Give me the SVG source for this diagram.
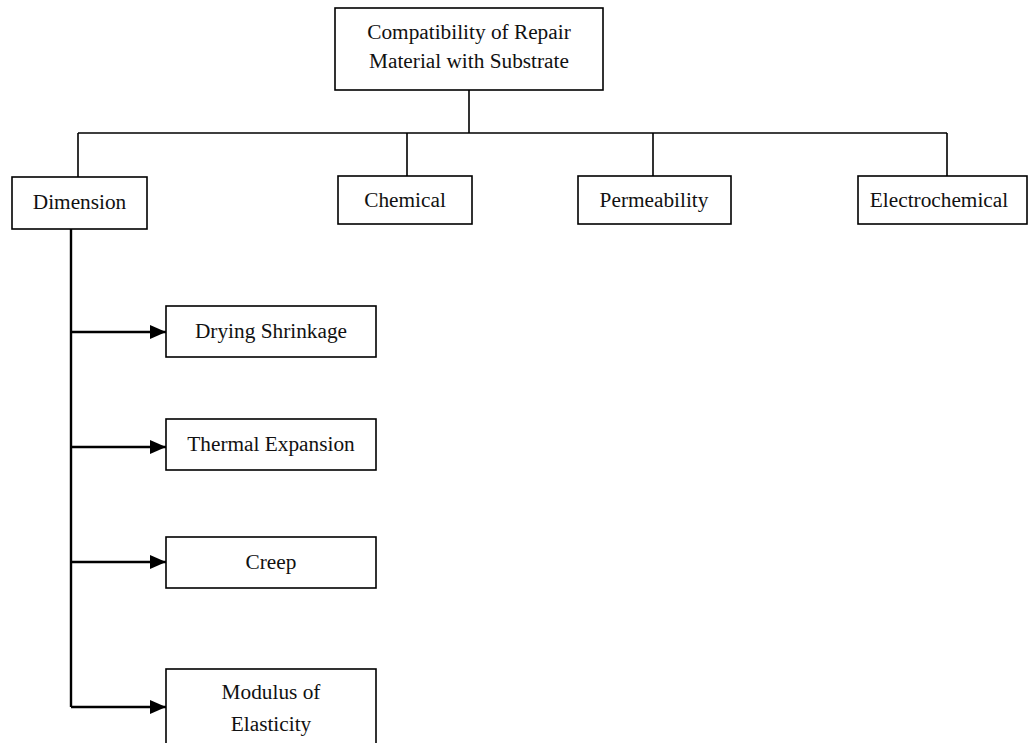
<svg xmlns="http://www.w3.org/2000/svg" width="1029" height="743" viewBox="0 0 1029 743">
<style>
.box{fill:#fff;stroke:#000;stroke-width:1.6}
.t{font-family:"Liberation Serif","Times New Roman",serif;font-size:21.3px;fill:#111;text-anchor:middle}
.ln{fill:none;stroke:#000;stroke-width:1.6}
.ar{fill:none;stroke:#000;stroke-width:2.4}
</style>
<defs>
<marker id="ah" markerWidth="16" markerHeight="14" refX="16" refY="7" orient="auto" markerUnits="userSpaceOnUse">
<path d="M0,0 L16,7 L0,14 Z" fill="#000"/>
</marker>
</defs>
<rect width="1029" height="743" fill="#fff"/>
<g id="connectors">
<path class="ln" d="M469,90 V133 M78,133 H947 M78,133 V177 M407,133 V176 M653,133 V176 M947,133 V176"/>
<path class="ar" d="M71,229 V707"/>
<path class="ar" d="M71,332 H166" marker-end="url(#ah)"/>
<path class="ar" d="M71,447 H166" marker-end="url(#ah)"/>
<path class="ar" d="M71,562 H166" marker-end="url(#ah)"/>
<path class="ar" d="M71,707 H166" marker-end="url(#ah)"/>
</g>
<g id="root">
<rect class="box" x="335" y="8" width="268" height="82"/>
<text class="t" x="469" y="39">Compatibility of Repair</text>
<text class="t" x="469" y="68">Material with Substrate</text>
</g>
<g id="dimension">
<rect class="box" x="12" y="177" width="135" height="52"/>
<text class="t" x="79.5" y="209">Dimension</text>
</g>
<g id="chemical">
<rect class="box" x="338" y="176" width="134" height="48"/>
<text class="t" x="405" y="207">Chemical</text>
</g>
<g id="permeability">
<rect class="box" x="578" y="176" width="153" height="48"/>
<text class="t" x="654" y="207">Permeability</text>
</g>
<g id="electrochemical">
<rect class="box" x="858" y="176" width="169" height="48"/>
<text class="t" x="939" y="207">Electrochemical</text>
</g>
<g id="drying-shrinkage">
<rect class="box" x="166" y="306" width="210" height="51"/>
<text class="t" x="271" y="338">Drying Shrinkage</text>
</g>
<g id="thermal-expansion">
<rect class="box" x="166" y="419" width="210" height="51"/>
<text class="t" x="271" y="451">Thermal Expansion</text>
</g>
<g id="creep">
<rect class="box" x="166" y="537" width="210" height="51"/>
<text class="t" x="271" y="569">Creep</text>
</g>
<g id="modulus">
<rect class="box" x="166" y="669" width="210" height="100"/>
<text class="t" x="271" y="699">Modulus of</text>
<text class="t" x="271" y="731">Elasticity</text>
</g>
</svg>
